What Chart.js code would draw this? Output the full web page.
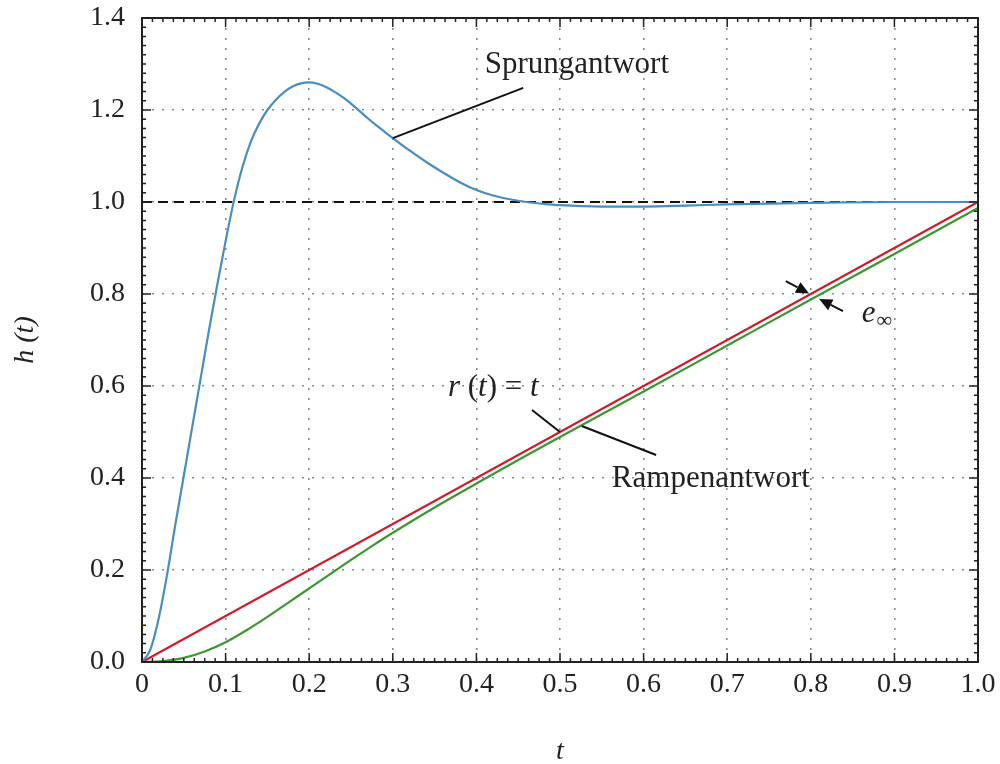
<!DOCTYPE html>
<html>
<head>
<meta charset="utf-8">
<script src="https://cdn.jsdelivr.net/npm/chart.js@4"></script>
<style>
  html, body { margin: 0; padding: 0; background: #fff; }
  #wrap { width: 1000px; height: 764px; }
</style>
</head>
<body>
<div id="wrap"><canvas id="chart" width="1000" height="764"></canvas></div>
<script>
// Sprungantwort h(t)
const stepT = [0, 0.01, 0.02, 0.03, 0.04, 0.05, 0.06, 0.07, 0.08, 0.09, 0.1, 0.11, 0.12, 0.13, 0.14, 0.15,
  0.16, 0.17, 0.18, 0.19, 0.2, 0.21, 0.22, 0.23, 0.24, 0.25, 0.26, 0.27, 0.28, 0.29, 0.3, 0.32, 0.34,
  0.36, 0.38, 0.4, 0.42, 0.44, 0.46, 0.48, 0.5, 0.55, 0.6, 0.65, 0.7, 0.8, 0.9, 1.0];
const stepH = [0, 0.027, 0.095, 0.19, 0.3, 0.405, 0.51, 0.615, 0.72, 0.82, 0.915, 1.003, 1.075, 1.13,
  1.17, 1.2, 1.222, 1.239, 1.251, 1.258, 1.26, 1.257, 1.25, 1.24, 1.228, 1.214, 1.198, 1.182, 1.167,
  1.153, 1.139, 1.112, 1.087, 1.064, 1.043, 1.026, 1.014, 1.006, 1.0, 0.996, 0.993, 0.99, 0.99, 0.992,
  0.995, 0.998, 1.0, 1.0];

// Rampe r(t) = t
const rampT = [0, 1];
const rampH = [0, 1];

// Rampenantwort
const respT = [0, 0.025, 0.05, 0.075, 0.1, 0.125, 0.15, 0.175, 0.2, 0.225, 0.25, 0.275, 0.3, 0.35,
  0.4, 0.45, 0.5, 0.6, 0.7, 0.8, 0.9, 1.0];
const respH = [0, 0.002, 0.009, 0.023, 0.043, 0.069, 0.098, 0.129, 0.16, 0.191, 0.222, 0.252, 0.281,
  0.336, 0.388, 0.439, 0.489, 0.588, 0.688, 0.788, 0.887, 0.987];

// Endwert
const finalT = [0, 1];
const finalH = [1, 1];

const xTicks = [0, 0.1, 0.2, 0.3, 0.4, 0.5, 0.6, 0.7, 0.8, 0.9, 1.0];
const xTickLabels = ["0", "0.1", "0.2", "0.3", "0.4", "0.5", "0.6", "0.7", "0.8", "0.9", "1.0"];
const yTicks = [0, 0.2, 0.4, 0.6, 0.8, 1.0, 1.2, 1.4];
const yTickLabels = ["0.0", "0.2", "0.4", "0.6", "0.8", "1.0", "1.2", "1.4"];

const toPts = (xs, ys) => xs.map((x, i) => ({ x: x, y: ys[i] }));

const SERIF = "'Liberation Serif', 'Times New Roman', serif";
const INK = "#222";

// Pfeile und Beschriftungen (in Datenkoordinaten)
const notes = {
  sprungLine: [[0.3, 1.139], [0.456, 1.248]],
  sprungText: [0.41, 1.28],
  rLine: [[0.4665, 0.548], [0.5, 0.5]],
  rText: [0.366, 0.578],
  rampLine: [[0.526, 0.513], [0.615, 0.45]],
  rampText: [0.562, 0.381],
  arrow1: [[0.77, 0.828], [0.798, 0.801]],
  arrow2: [[0.8385, 0.763], [0.81, 0.789]],
  eText: [0.861, 0.74],
};

function drawRich(ctx, x, y, parts) {
  let cx = x;
  parts.forEach(([txt, italic, size]) => {
    ctx.font = (italic ? "italic " : "") + size + "px " + SERIF;
    ctx.fillText(txt, cx, y);
    cx += ctx.measureText(txt).width;
  });
}

const decor = {
  id: "decor",
  afterDatasetsDraw(chart) {
    const { ctx, chartArea: a, scales } = chart;
    const xs = scales.x, ys = scales.y;
    const px = (p) => [xs.getPixelForValue(p[0]), ys.getPixelForValue(p[1])];
    ctx.save();

    // Rahmen
    ctx.strokeStyle = INK;
    ctx.lineWidth = 2;
    ctx.strokeRect(a.left, a.top, a.right - a.left, a.bottom - a.top);

    // Teilstriche innen
    ctx.lineWidth = 1.5;
    ctx.beginPath();
    for (let i = 0; i <= 80; i++) {
      const x = xs.getPixelForValue(i / 80);
      const len = i % 8 === 0 ? 9 : 4;
      ctx.moveTo(x, a.bottom); ctx.lineTo(x, a.bottom - len);
      ctx.moveTo(x, a.top); ctx.lineTo(x, a.top + len);
    }
    for (let i = 0; i <= 70; i++) {
      const y = ys.getPixelForValue(i / 50);
      const len = i % 10 === 0 ? 9 : 4;
      ctx.moveTo(a.left, y); ctx.lineTo(a.left + len, y);
      ctx.moveTo(a.right, y); ctx.lineTo(a.right - len, y);
    }
    ctx.stroke();

    // Hinweislinien
    ctx.strokeStyle = "#111";
    ctx.lineWidth = 2;
    [notes.sprungLine, notes.rLine, notes.rampLine].forEach((seg) => {
      const p0 = px(seg[0]), p1 = px(seg[1]);
      ctx.beginPath(); ctx.moveTo(p0[0], p0[1]); ctx.lineTo(p1[0], p1[1]); ctx.stroke();
    });

    // Pfeile
    ctx.fillStyle = "#111";
    [notes.arrow1, notes.arrow2].forEach((seg) => {
      const p0 = px(seg[0]), p1 = px(seg[1]);
      const ang = Math.atan2(p1[1] - p0[1], p1[0] - p0[0]);
      const hl = 13, hw = 6;
      const bx = p1[0] - hl * Math.cos(ang), by = p1[1] - hl * Math.sin(ang);
      ctx.beginPath(); ctx.moveTo(p0[0], p0[1]); ctx.lineTo(bx, by); ctx.stroke();
      ctx.beginPath();
      ctx.moveTo(p1[0], p1[1]);
      ctx.lineTo(bx + hw * Math.sin(ang), by - hw * Math.cos(ang));
      ctx.lineTo(bx - hw * Math.sin(ang), by + hw * Math.cos(ang));
      ctx.closePath(); ctx.fill();
    });

    // Texte
    ctx.fillStyle = INK;
    ctx.textBaseline = "alphabetic";
    ctx.textAlign = "left";
    let p = px(notes.sprungText);
    drawRich(ctx, p[0], p[1], [["Sprungantwort", false, 31]]);
    p = px(notes.rampText);
    drawRich(ctx, p[0], p[1], [["Rampenantwort", false, 31]]);
    p = px(notes.rText);
    drawRich(ctx, p[0], p[1], [["r", true, 31], [" (", false, 31], ["t", true, 31],
      [") = ", false, 31], ["t", true, 31]]);
    p = px(notes.eText);
    ctx.font = "italic 31px " + SERIF;
    ctx.fillText("e", p[0], p[1]);
    const ew = ctx.measureText("e").width;
    ctx.font = "22px " + SERIF;
    ctx.fillText("\u221E", p[0] + ew + 1, p[1] + 5);

    ctx.restore();
  },
};

new Chart(document.getElementById("chart"), {
  type: "scatter",
  data: {
    datasets: [
      {
        label: "Endwert",
        data: toPts(finalT, finalH),
        showLine: true,
        borderColor: "#111",
        borderWidth: 2,
        borderDash: [10, 6],
        pointRadius: 0,
        order: 4,
      },
      {
        label: "Rampenantwort",
        data: toPts(respT, respH),
        showLine: true,
        borderColor: "rgb(60, 150, 50)",
        borderWidth: 2.2,
        pointRadius: 0,
        cubicInterpolationMode: "monotone",
        order: 3,
      },
      {
        label: "r(t) = t",
        data: toPts(rampT, rampH),
        showLine: true,
        borderColor: "rgb(210, 25, 40)",
        borderWidth: 2.2,
        pointRadius: 0,
        order: 2,
      },
      {
        label: "Sprungantwort",
        data: toPts(stepT, stepH),
        showLine: true,
        borderColor: "rgb(72, 142, 192)",
        borderWidth: 2.2,
        pointRadius: 0,
        cubicInterpolationMode: "monotone",
        order: 1,
      },
    ],
  },
  options: {
    responsive: false,
    animation: false,
    layout: { padding: { top: 18, right: 22, left: 0, bottom: 0 } },
    plugins: {
      legend: { display: false },
      tooltip: { enabled: false },
    },
    scales: {
      x: {
        type: "linear",
        min: 0,
        max: 1,
        afterBuildTicks: (s) => { s.ticks = xTicks.map((v) => ({ value: v })); },
        afterFit: (s) => { s.height = 102; s.paddingLeft = 0; s.paddingRight = 0; },
        ticks: {
          padding: 6,
          color: INK,
          font: { family: SERIF, size: 28 },
          maxRotation: 0,
          callback: (v, i) => xTickLabels[i],
        },
        grid: { color: "#8a8a8a", lineWidth: 1.6, drawTicks: false },
        border: { display: false, dash: [2, 8] },
        title: {
          display: true,
          text: "t",
          color: INK,
          font: { family: SERIF, size: 28, style: "italic", lineHeight: 0.86 },
          padding: { top: 0, bottom: 0 },
        },
      },
      y: {
        type: "linear",
        min: 0,
        max: 1.4,
        afterBuildTicks: (s) => { s.ticks = yTicks.map((v) => ({ value: v })); },
        afterFit: (s) => { s.width = 142; s.paddingTop = 0; s.paddingBottom = 0; },
        ticks: {
          padding: 17,
          color: INK,
          font: { family: SERIF, size: 28 },
          callback: (v, i) => yTickLabels[i],
        },
        grid: { color: "#8a8a8a", lineWidth: 1.6, drawTicks: false },
        border: { display: false, dash: [2, 8] },
        title: {
          display: true,
          text: "h (t)",
          color: INK,
          font: { family: SERIF, size: 28, style: "italic", lineHeight: 1 },
          padding: { top: 12, bottom: 0 },
        },
      },
    },
  },
  plugins: [decor],
});
</script>
</body>
</html>
